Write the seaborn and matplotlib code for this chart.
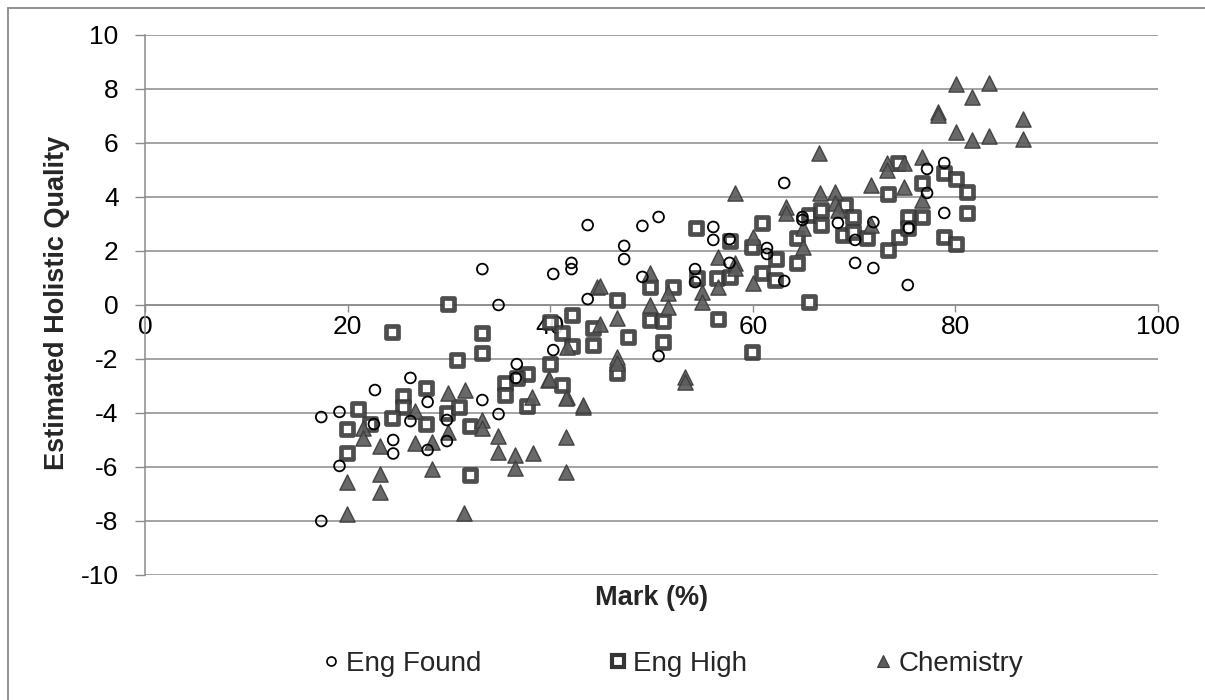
import matplotlib
matplotlib.use("Agg")
import matplotlib.pyplot as plt
from matplotlib.lines import Line2D
import seaborn as sns
import pandas as pd

# ---------------- data ----------------
eng_found_x = [17.4, 19.2, 22.7, 26.2, 27.9, 22.6, 26.2, 24.5, 24.5, 27.9, 19.2, 17.4,
               29.8, 29.8, 43.7, 33.3, 40.3, 42.1, 42.1, 43.7, 34.9, 40.3, 36.7, 36.6,
               33.3, 34.9, 47.3, 47.3, 49.1, 50.7, 49.1, 54.3, 54.3, 56.1, 56.1, 57.7,
               57.7, 61.4, 61.4, 63.1, 63.1, 64.9, 64.9, 68.4, 50.7, 70.1, 70.1, 71.9,
               71.9, 75.3, 77.2, 77.2, 78.9, 78.9, 75.4]
eng_found_y = [-4.15, -3.96, -3.15, -2.70, -3.59, -4.41, -4.30, -5.0, -5.5, -5.37, -5.96, -8.0,
               -4.26, -5.04, 2.96, 1.33, 1.15, 1.56, 1.33, 0.22, 0.0, -1.67, -2.19, -2.70,
               -3.52, -4.04, 2.19, 1.70, 2.93, 3.26, 1.04, 1.33, 0.85, 2.89, 2.41, 2.44,
               1.56, 2.11, 1.89, 4.52, 0.89, 3.26, 3.15, 3.04, -1.89, 2.41, 1.56, 3.07,
               1.37, 0.74, 5.04, 4.15, 5.26, 3.41, 2.85]

eng_high_x = [21.0, 25.5, 27.7, 25.5, 19.9, 22.2, 24.4, 27.7, 19.9, 29.9, 24.4, 30.8,
              29.8, 31.0, 32.1, 32.1, 33.3, 33.3, 40.0, 42.2, 44.2, 41.2, 42.2, 44.2,
              40.0, 41.2, 37.7, 36.7, 35.5, 35.5, 37.7, 54.4, 57.7, 59.9, 56.5, 54.5,
              57.7, 49.9, 52.1, 46.6, 49.9, 51.1, 47.7, 51.1, 56.6, 46.6, 60.9, 60.9,
              59.9, 62.3, 62.2, 64.4, 64.4, 65.5, 66.7, 66.7, 65.5, 69.1, 69.9, 68.9,
              69.9, 71.3, 73.3, 74.3, 73.3, 74.4, 75.3, 75.3, 76.7, 76.7, 78.9, 80.1,
              81.1, 81.1, 78.9, 80.1]
eng_high_y = [-3.85, -3.37, -3.07, -3.78, -4.59, -4.41, -4.19, -4.41, -5.48, 0.04, -1.0, -2.02,
              -4.0, -3.78, -4.48, -6.3, -1.04, -1.78, -0.63, -0.37, -0.85, -1.04, -1.52, -1.48,
              -2.19, -2.96, -2.56, -2.70, -2.89, -3.33, -3.74, 2.85, 2.37, 2.15, 1.0, 1.0,
              1.04, 0.67, 0.67, 0.19, -0.56, -0.59, -1.19, -1.37, -0.52, -2.52, 3.05, 1.19,
              -1.74, 1.70, 0.93, 2.48, 1.56, 3.33, 3.52, 2.96, 0.11, 3.70, 3.26, 2.59,
              2.70, 2.48, 4.11, 5.26, 2.04, 2.52, 3.26, 2.85, 3.26, 4.52, 4.89, 4.67,
              4.19, 3.41, 2.52, 2.26]

chem_x = [21.5, 21.5, 23.2, 26.7, 26.7, 28.3, 28.3, 19.9, 23.2, 23.2, 19.9, 29.9,
          29.9, 31.6, 41.7, 39.8, 41.7, 44.6, 44.9, 44.9, 33.3, 33.3, 34.8, 38.2,
          39.9, 41.6, 43.2, 41.6, 34.8, 36.5, 36.5, 38.3, 41.6, 43.2, 31.5,
          58.2, 49.9, 51.6, 49.9, 51.6, 46.6, 55.0, 55.0, 56.6, 56.6, 58.2, 58.2,
          60.0, 60.0, 46.6, 46.6, 53.3, 53.3, 66.5, 63.3, 63.3, 66.6, 68.1, 68.1,
          65.0, 65.0, 68.4, 71.7, 74.9, 73.2, 73.2, 71.7, 74.9, 76.7, 76.7, 78.3,
          78.3, 80.1, 83.3, 81.6, 80.1, 81.6, 83.3, 86.7, 86.7]
chem_y = [-4.56, -4.93, -5.22, -3.93, -5.11, -5.07, -6.07, -6.56, -6.26, -6.93, -7.74, -3.26,
          -4.70, -3.15, -1.56, -2.78, -3.41, 0.67, 0.70, -0.70, -4.26, -4.56, -4.85, -3.41,
          -2.74, -3.44, -3.78, -4.89, -5.44, -5.56, -6.04, -5.48, -6.19, -3.70, -7.7,
          4.15, 1.19, 0.44, 0.0, -0.07, -0.48, 0.48, 0.11, 1.78, 0.67, 1.56, 1.37,
          2.52, 0.81, -1.93, -2.15, -2.67, -2.85, 5.63, 3.63, 3.41, 4.15, 4.19, 3.78,
          2.85, 2.15, 3.52, 4.44, 4.37, 5.26, 5.0, 2.96, 5.26, 5.48, 3.89, 7.15,
          7.04, 8.19, 8.22, 7.70, 6.41, 6.11, 6.26, 6.89, 6.15]

series_names = ["Eng Found", "Eng High", "Chemistry"]
x_ticks = [0, 20, 40, 60, 80, 100]
y_ticks = [-10, -8, -6, -4, -2, 0, 2, 4, 6, 8, 10]

df_found = pd.DataFrame({"mark": eng_found_x, "quality": eng_found_y})
df_high = pd.DataFrame({"mark": eng_high_x, "quality": eng_high_y})
df_chem = pd.DataFrame({"mark": chem_x, "quality": chem_y})

# ---------------- style ----------------
sns.set_theme(style="white")
plt.rcParams["font.family"] = ["Liberation Sans", "DejaVu Sans"]

GRID = "#8a8a8a"
fig = plt.figure(figsize=(12.05, 7.0), dpi=100)
ax = fig.add_axes([145 / 1205, 1 - 575 / 700, (1158 - 145) / 1205, (575 - 35) / 700])

# outer chart border (left and top edges are visible in the crop)
bx, by = 8 / 1205, 1 - 8 / 700
fig.add_artist(Line2D([bx, bx], [0, by], transform=fig.transFigure, color=GRID, linewidth=1.3))
fig.add_artist(Line2D([bx, 1], [by, by], transform=fig.transFigure, color=GRID, linewidth=1.3))

for yv in y_ticks:
    ax.axhline(yv, color=GRID, linewidth=1.1, zorder=0)

sns.scatterplot(data=df_high, x="mark", y="quality", ax=ax, marker="s", s=78,
                facecolor="white", edgecolor="#353535", linewidth=3.4, alpha=0.88,
                zorder=3, legend=False)
sns.scatterplot(data=df_chem, x="mark", y="quality", ax=ax, marker="^", s=120,
                color="#5c5c5c", edgecolor="#3c3c3c", linewidth=1.0, alpha=0.92,
                zorder=4, legend=False)
sns.scatterplot(data=df_found, x="mark", y="quality", ax=ax, marker="o", s=60,
                facecolor="none", edgecolor="black", linewidth=1.3,
                zorder=5, legend=False)

ax.set_xlim(0, 100)
ax.set_ylim(-10, 10)
ax.set_xticks(x_ticks)
ax.set_yticks(y_ticks)
ax.set_xticklabels([str(v) for v in x_ticks])
ax.set_yticklabels([str(v) for v in y_ticks])

for s in ["top", "right"]:
    ax.spines[s].set_visible(False)
ax.spines["left"].set_color(GRID)
ax.spines["left"].set_linewidth(1.1)
ax.spines["bottom"].set_position(("data", 0))
ax.spines["bottom"].set_color(GRID)
ax.spines["bottom"].set_linewidth(1.1)

ax.tick_params(axis="y", direction="out", length=7, width=1.0, color=GRID,
               labelsize=19, labelcolor="black", pad=12, left=True)
ax.tick_params(axis="x", direction="out", length=5, width=1.0, color=GRID,
               labelsize=19, labelcolor="black", pad=2, bottom=True)
ax.set_xlabel("")
ax.set_ylabel("")

fig.text((145 + 1158) / 2 / 1205, 1 - 598 / 700, "Mark (%)", ha="center", va="center",
         fontsize=19.5, fontweight="bold")
fig.text(57 / 1205, 1 - 303 / 700, "Estimated Holistic Quality", ha="center", va="center",
         rotation=90, fontsize=19.5, fontweight="bold")

handles = [
    Line2D([], [], linestyle="none", marker="o", markersize=6.5, markerfacecolor="none",
           markeredgecolor="black", markeredgewidth=1.2, label=series_names[0]),
    Line2D([], [], linestyle="none", marker="s", markersize=8.5, markerfacecolor="white",
           markeredgecolor="#353535", markeredgewidth=3.0, label=series_names[1]),
    Line2D([], [], linestyle="none", marker="^", markersize=9, markerfacecolor="#5c5c5c",
           markeredgecolor="#3c3c3c", markeredgewidth=0.8, label=series_names[2]),
]
fig.legend(handles=handles, loc="center", bbox_to_anchor=(670 / 1205, 1 - 664 / 700),
           ncol=3, frameon=False, fontsize=20, handletextpad=0.05, columnspacing=4.4,
           handlelength=1.0)

fig.savefig("out.png", dpi=100)
